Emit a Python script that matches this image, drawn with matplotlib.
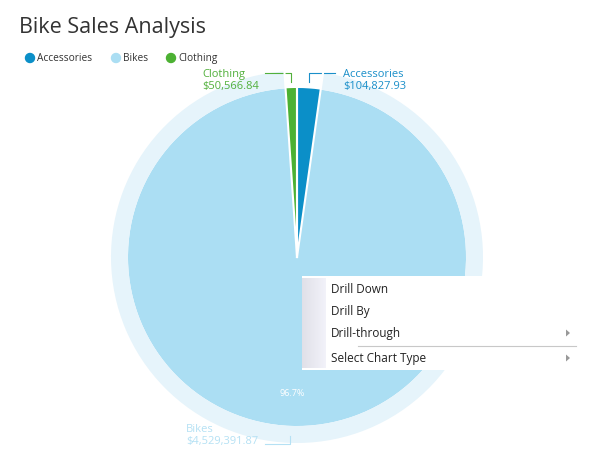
import numpy as np
import matplotlib.pyplot as plt
from matplotlib.patches import Wedge, Rectangle, Circle, Polygon

categories = ['Accessories', 'Bikes', 'Clothing']
sales = [104827.93, 4529391.87, 50566.84]
colors = ['#0b8fc8', '#abdef3', '#4cb133']
label_colors = ['#1a8fc9', '#b5e1f4', '#52b03c']
menu_items = ['Drill Down', 'Drill By', 'Drill-through', 'Select Chart Type']

W, H = 614, 469
fig = plt.figure(figsize=(W / 100, H / 100), dpi=100)
ax = fig.add_axes([0, 0, 1, 1])
plt.rcParams['font.family'] = ['Open Sans', 'DejaVu Sans']


def Y(y):
    return H - y


cx, cy, r = 297, Y(257), 169
ring = 17

total = sum(sales)
fracs = [s / total for s in sales]

wedges, _ = ax.pie(sales, colors=colors, startangle=90, counterclock=False,
                   center=(cx, cy), radius=r,
                   wedgeprops=dict(edgecolor='none', linewidth=0))
ax.set_xlim(0, W)
ax.set_ylim(0, H)
ax.set_aspect('auto')
ax.axis('off')

# highlight ring behind the hovered Bikes slice
a_start = 90 - fracs[0] * 360
a_end = a_start - fracs[1] * 360
ax.add_patch(Wedge((cx, cy), r + ring, a_end, a_start, width=ring,
                   facecolor='#e6f4fb', edgecolor='none'))

# white separators between slices
ang = 90
for f in [0] + fracs:
    ang -= f * 360
    t = np.deg2rad(ang)
    ax.plot([cx, cx + (r + ring) * np.cos(t)], [cy, cy + (r + ring) * np.sin(t)],
            color='white', lw=1.5, zorder=3)

# percentage label for the big slice
ax.text(292, Y(393), f'{fracs[1] * 100:.1f}%', color='white', fontsize=6.5,
        ha='center', va='center')

# data labels with leader lines
lab = dict(fontsize=8, va='center')
ax.text(202, Y(74), categories[2], color=label_colors[2], ha='left', **lab)
ax.text(202, Y(86), f'${sales[2]:,.2f}', color=label_colors[2], ha='left', **lab)
ax.plot([265, 291, 291], [Y(73), Y(73), Y(82)], color=label_colors[2], lw=0.8)

ax.text(343, Y(74), categories[0], color=label_colors[0], ha='left', **lab)
ax.text(343, Y(86), f'${sales[0]:,.2f}', color=label_colors[0], ha='left', **lab)
ax.plot([309, 309, 335], [Y(82), Y(73), Y(73)], color=label_colors[0], lw=0.8)

ax.text(186, Y(429), categories[1], color=label_colors[1], ha='left', **lab)
ax.text(186, Y(441), f'${sales[1]:,.2f}', color=label_colors[1], ha='left', **lab)
ax.plot([265, 290, 290], [Y(444), Y(444), Y(436)], color=label_colors[1], lw=0.8)

# title and legend
ax.text(19, Y(27), 'Bike Sales Analysis', fontsize=15.5, color='#333333',
        ha='left', va='center')
leg_x = [30, 116, 171]
for x, name, c in zip(leg_x, categories, colors):
    ax.add_patch(Circle((x, Y(58)), 4.5, color=c))
    ax.text(x + 7, Y(58), name, fontsize=7.3, color='#333333', ha='left', va='center')

# context menu
mx0, my0, mx1, my1 = 302, 276, 577, 370
ax.add_patch(Rectangle((mx0, Y(my1)), mx1 - mx0, my1 - my0,
                       facecolor='white', edgecolor='none', zorder=5))
grad = np.linspace(0.88, 0.95, 50).reshape(1, -1)
ax.imshow(np.dstack([grad, grad, grad + 0.03]).clip(0, 1),
          extent=(mx0, mx0 + 24, Y(my1 - 2), Y(my0 + 2)), aspect='auto',
          zorder=6)
item_y = [289, 311, 333, 358]
for y, t in zip(item_y, menu_items):
    ax.text(331, Y(y), t, fontsize=8.5, color='#222222', ha='left',
            va='center', zorder=7)
for y in (333, 358):
    ax.add_patch(Polygon([[566, Y(y - 3.5)], [570, Y(y)], [566, Y(y + 3.5)]],
                         closed=True, facecolor='#999999', edgecolor='none',
                         zorder=7))
ax.plot([358, 576], [Y(346), Y(346)], color='#c8c8c8', lw=0.8, zorder=7)

fig.savefig('out.png', dpi=100)
